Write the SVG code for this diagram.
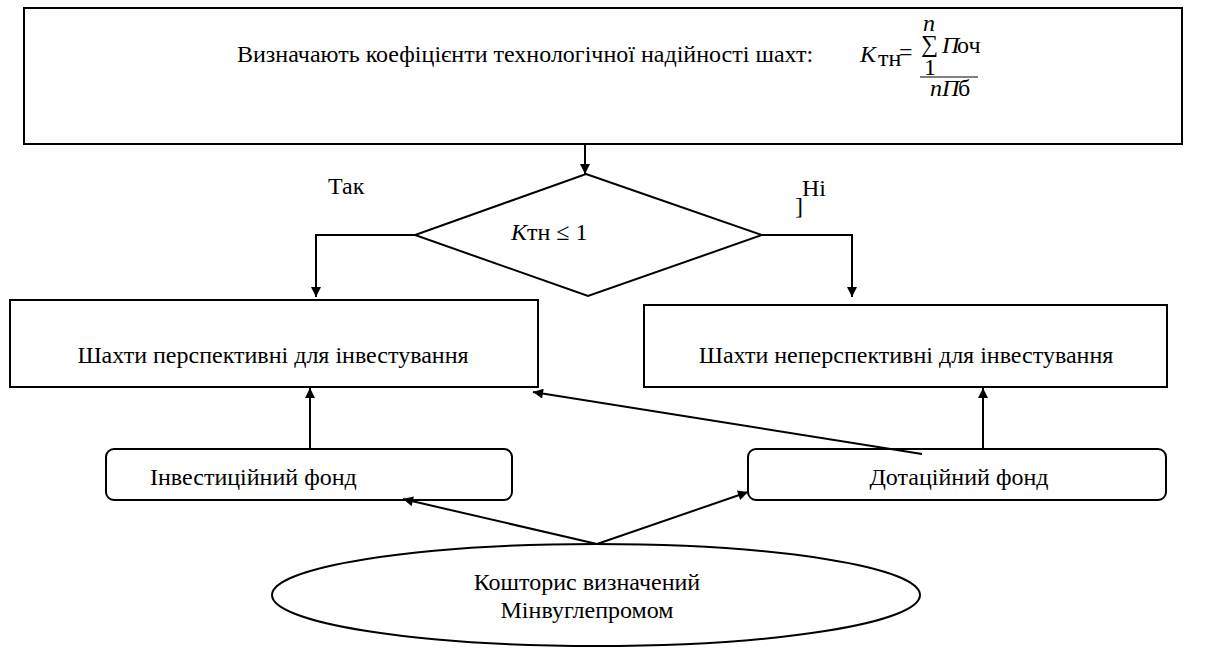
<svg xmlns="http://www.w3.org/2000/svg" width="1207" height="650" viewBox="0 0 1207 650" font-family="'Liberation Serif', 'Times New Roman', serif">
<style>
.box{fill:#fff;stroke:#000;stroke-width:2}
.ln{fill:none;stroke:#000;stroke-width:2}
text{font-family:'Liberation Serif','Times New Roman',serif;font-size:24px;fill:#000}
.i{font-style:italic}
</style>
<defs>
<marker id="ah" viewBox="0 0 10 10" refX="10" refY="5" markerWidth="12" markerHeight="10" markerUnits="userSpaceOnUse" orient="auto">
<path d="M0,0 L10,5 L0,10 Z" fill="#000"/>
</marker>
</defs>
<rect width="1207" height="650" fill="#fff"/>
<g id="top">
<rect class="box" x="24" y="8" width="1158" height="136"/>
<text x="237" y="62">Визначають коефіцієнти технологічної надійності шахт:</text>
<text class="i" x="860" y="62" font-size="26">K</text>
<text x="878" y="66" font-size="13">тн</text>
<text x="899" y="60">=</text>
<text class="i" x="923" y="31" font-size="15">n</text>
<text x="921" y="52" font-size="15">∑</text>
<text class="i" x="942" y="53" font-size="18">П</text>
<text x="957" y="53" font-size="18">оч</text>
<text x="924" y="75" font-size="17">1</text>
<line x1="920" y1="77" x2="978" y2="77" stroke="#000" stroke-width="1"/>
<text class="i" x="930" y="96" font-size="18">nП</text>
<text x="958" y="96" font-size="18">б</text>
</g>
<g id="decision">
<polygon class="box" points="586,174 762,235 588,296 415,235"/>
<text x="511" y="240"><tspan class="i">К</tspan>тн ≤ 1</text>
</g>
<g id="persp">
<rect class="box" x="10" y="300" width="528" height="87"/>
<text x="273" y="363" text-anchor="middle">Шахти перспективні для інвестування</text>
</g>
<g id="nepersp">
<rect class="box" x="644" y="305" width="523" height="82"/>
<text x="906" y="363" text-anchor="middle">Шахти неперспективні для інвестування</text>
</g>
<g id="invest">
<rect class="box" x="106" y="449" width="406" height="51" rx="8"/>
<text x="150" y="485">Інвестиційний фонд</text>
</g>
<g id="dotac">
<rect class="box" x="748" y="449" width="418" height="51" rx="8"/>
<text x="959" y="485" text-anchor="middle">Дотаційний фонд</text>
</g>
<g id="koshtoris">
<ellipse class="box" cx="596" cy="595" rx="324" ry="51"/>
<text x="587" y="590" text-anchor="middle">Кошторис визначений</text>
<text x="587" y="618" text-anchor="middle">Мінвуглепромом</text>
</g>
<g id="connectors">
<line class="ln" x1="585" y1="144" x2="585" y2="174" marker-end="url(#ah)"/>
<polyline class="ln" points="415,235 316,235 316,297" marker-end="url(#ah)"/>
<polyline class="ln" points="762,235 852,235 852,297" marker-end="url(#ah)"/>
<line class="ln" x1="310" y1="449" x2="310" y2="388" marker-end="url(#ah)"/>
<line class="ln" x1="983" y1="449" x2="983" y2="388" marker-end="url(#ah)"/>
<line class="ln" x1="922" y1="454" x2="533" y2="392" marker-end="url(#ah)"/>
<line class="ln" x1="597" y1="544" x2="403" y2="499" marker-end="url(#ah)"/>
<line class="ln" x1="597" y1="544" x2="748" y2="492" marker-end="url(#ah)"/>
<text x="328" y="194">Так</text>
<text x="795" y="214" font-size="16">]</text>
<text x="802" y="196">Hi</text>
</g>
</svg>
